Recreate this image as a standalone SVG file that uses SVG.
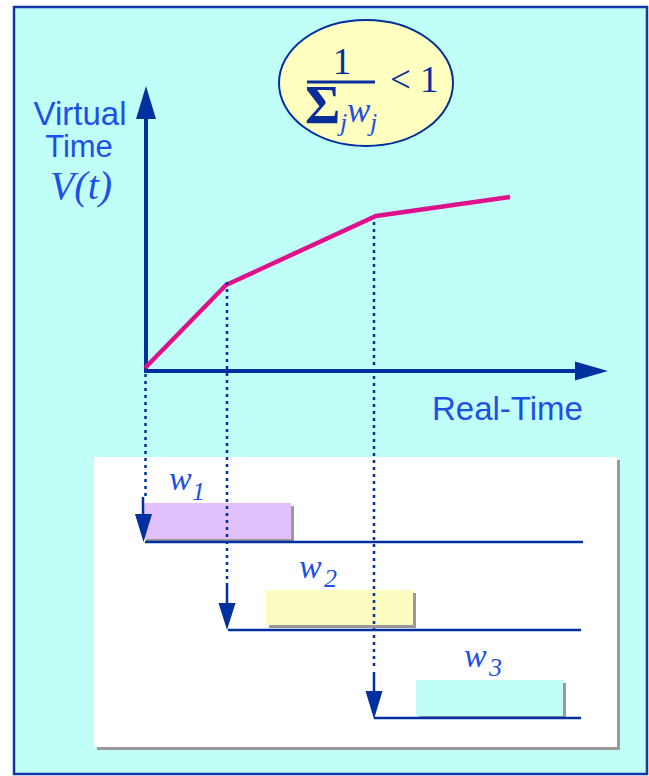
<svg xmlns="http://www.w3.org/2000/svg" width="649" height="776" viewBox="0 0 649 776">
<defs>
<style>
.axis{stroke:#0030A0;stroke-width:4;fill:none}
.dot{stroke:#0030A0;stroke-width:2.5;stroke-dasharray:3 4;fill:none}
.tl{stroke:#0030A0;stroke-width:2.5;fill:none}
.shaft{stroke:#0030A0;stroke-width:2.5;fill:none}
.head{fill:#0030A0}
.lbl{font-family:"Liberation Sans",Arial,sans-serif;fill:#1E50E6}
.math{font-family:"Liberation Serif","Times New Roman",serif}
.it{font-style:italic;fill:#1E50E6}
.shadow{fill:#999999}
</style>
</defs>
<rect x="14" y="7" width="633" height="767" fill="#BFFFF7" stroke="#1038A8" stroke-width="2.5"/>

<g id="formula">
<ellipse cx="366" cy="83" rx="87" ry="63" fill="#FFFFC0" stroke="#0030A0" stroke-width="2"/>
<text class="math" x="342" y="74" font-size="37" fill="#0A2D9A" text-anchor="middle">1</text>
<line x1="307" y1="82" x2="375" y2="82" stroke="#0A2D9A" stroke-width="3"/>
<text class="math" x="390" y="92" font-size="37" fill="#0A2D9A">&lt;</text>
<text class="math" x="420" y="92" font-size="37" fill="#0A2D9A">1</text>
<text class="math" x="305" y="123" font-size="54" font-weight="bold" fill="#0A2D9A">Σ</text>
<text class="math it" x="340" y="131" font-size="26">j</text>
<text class="math it" x="347" y="122" font-size="35">w</text>
<text class="math it" x="370" y="131" font-size="26">j</text>
</g>

<g id="y-label">
<text class="lbl" x="80" y="125" font-size="33" text-anchor="middle">Virtual</text>
<text class="lbl" x="79" y="157" font-size="31" text-anchor="middle">Time</text>
<text class="math it" x="81" y="199" font-size="40" text-anchor="middle">V(t)</text>
</g>

<g id="x-label">
<text class="lbl" x="432" y="420" font-size="33">Real-Time</text>
</g>

<g id="panel">
<rect x="97" y="460" width="523" height="290" class="shadow"/>
<rect x="94" y="457" width="523" height="290" fill="#FFFFFF"/>
</g>

<g id="bar-w1">
<rect x="146" y="506" width="148" height="36" class="shadow"/>
<rect x="143" y="503" width="148" height="36" fill="#E2C0FC"/>
<text class="math it" x="169" y="490" font-size="34">w</text>
<text class="math it" x="192" y="500" font-size="26">1</text>
</g>
<g id="bar-w2">
<rect x="269" y="593" width="147" height="35" class="shadow"/>
<rect x="266" y="590" width="147" height="35" fill="#FCFCC0"/>
<text class="math it" x="299" y="578" font-size="34">w</text>
<text class="math it" x="324" y="587" font-size="26">2</text>
</g>
<g id="bar-w3">
<rect x="419" y="683" width="147" height="36" class="shadow"/>
<rect x="416" y="680" width="147" height="36" fill="#C0FFF8"/>
<text class="math it" x="464" y="667" font-size="34">w</text>
<text class="math it" x="489" y="676" font-size="26">3</text>
</g>

<g id="connectors">
<line x1="146" y1="371" x2="146" y2="116" class="axis"/>
<polygon points="146,86 136,119 156,119" class="head"/>
<line x1="144" y1="371" x2="578" y2="371" class="axis"/>
<polygon points="608,371 575,361.5 575,380.5" class="head"/>
<polyline points="145,368 226,285 376,216 510,197" fill="none" stroke="#E0108C" stroke-width="4.5" stroke-linejoin="miter"/>

<line x1="145.5" y1="374" x2="145.5" y2="500" class="dot"/>
<line x1="227" y1="282" x2="227" y2="580" class="dot"/>
<line x1="374" y1="222" x2="374" y2="666" class="dot"/>

<line x1="143" y1="497" x2="143" y2="516" class="shaft"/>
<polygon points="143.5,542 135,514 152,514" class="head"/>
<line x1="227" y1="583" x2="227" y2="605" class="shaft"/>
<polygon points="227,630 218.5,603 235.5,603" class="head"/>
<line x1="374" y1="672" x2="374" y2="693" class="shaft"/>
<polygon points="374,719 365.5,691 382.5,691" class="head"/>

<line x1="145" y1="542" x2="583" y2="542" class="tl"/>
<line x1="228" y1="630" x2="581" y2="630" class="tl"/>
<line x1="374" y1="718" x2="581" y2="718" class="tl"/>
</g>
</svg>
